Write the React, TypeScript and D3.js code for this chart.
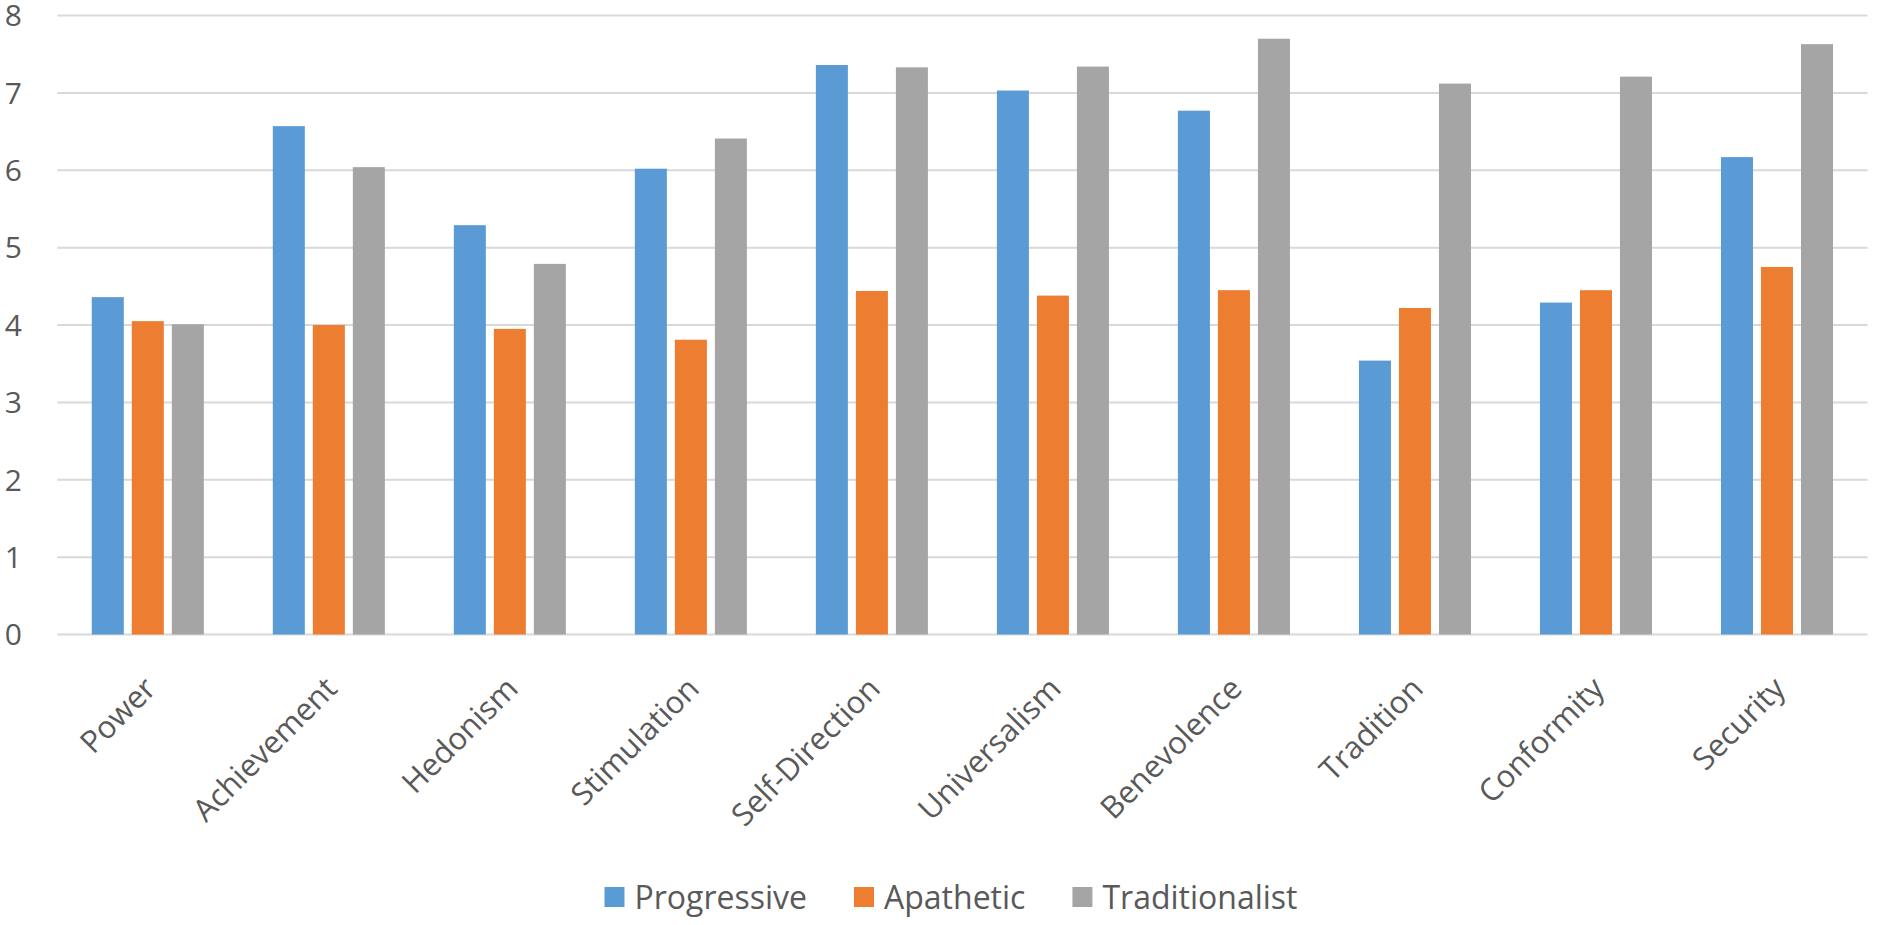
import React, { useEffect, useRef } from 'react';
import * as d3 from 'd3';

const categories = [
  'Power', 'Achievement', 'Hedonism', 'Stimulation', 'Self-Direction',
  'Universalism', 'Benevolence', 'Tradition', 'Conformity', 'Security',
];
const seriesNames = ['Progressive', 'Apathetic', 'Traditionalist'];
const progressive = [4.36, 6.57, 5.29, 6.02, 7.36, 7.03, 6.77, 3.54, 4.29, 6.17];
const apathetic = [4.05, 4.0, 3.95, 3.81, 4.44, 4.38, 4.45, 4.22, 4.45, 4.75];
const traditionalist = [4.01, 6.04, 4.79, 6.41, 7.33, 7.34, 7.7, 7.12, 7.21, 7.63];
const yTicks = [0, 1, 2, 3, 4, 5, 6, 7, 8];
const colors = ['#5B9BD5', '#ED7D31', '#A5A5A5'];

const WIDTH = 1877;
const HEIGHT = 925;
const FONT = '"Open Sans", sans-serif';
const TEXT = '#595959';

const App: React.FC = () => {
  const ref = useRef<SVGSVGElement>(null);

  useEffect(() => {
    drawChart();
  }, []);

  const drawChart = () => {
    const svg = d3.select(ref.current);
    svg.selectAll('*').remove();

    const margin = { top: 15.5, right: 9.5, bottom: 290.5, left: 57.3 };
    const plotW = WIDTH - margin.left - margin.right;
    const plotH = HEIGHT - margin.top - margin.bottom;

    const x = d3.scaleBand<string>()
      .domain(categories)
      .range([0, plotW])
      .padding(0);

    // gap between groups ~ 216% of a bar, bars overlap -25%
    const groupW = x.bandwidth() * 0.619;
    const side = (x.bandwidth() - groupW) / 2;
    const x1 = d3.scaleBand<string>()
      .domain(seriesNames)
      .range([side, side + groupW])
      .paddingInner(0.2)
      .paddingOuter(0);

    const y = d3.scaleLinear().domain([0, 8]).range([plotH, 0]);

    const g = svg.append('g').attr('transform', `translate(${margin.left},${margin.top})`);

    // gridlines
    g.selectAll('.grid')
      .data(yTicks)
      .enter().append('line')
      .attr('x1', 0)
      .attr('x2', plotW)
      .attr('y1', d => y(d))
      .attr('y2', d => y(d))
      .attr('stroke', '#D9D9D9')
      .attr('stroke-width', 2);

    // y labels
    g.selectAll('.ylab')
      .data(yTicks)
      .enter().append('text')
      .attr('x', 22 - margin.left)
      .attr('y', d => y(d))
      .attr('dy', '0.36em')
      .attr('text-anchor', 'end')
      .style('font-family', FONT)
      .style('font-size', '30px')
      .attr('fill', TEXT)
      .text(d => d);

    const series = [progressive, apathetic, traditionalist];
    series.forEach((vals, si) => {
      g.selectAll(`.bar${si}`)
        .data(vals)
        .enter().append('rect')
        .attr('x', (d, i) => (x(categories[i]) ?? 0) + (x1(seriesNames[si]) ?? 0))
        .attr('y', d => y(d))
        .attr('width', x1.bandwidth())
        .attr('height', d => plotH - y(d))
        .attr('fill', colors[si]);
    });

    // category labels, rotated
    g.selectAll('.xlab')
      .data(categories)
      .enter().append('text')
      .attr('transform', d => {
        const cx = (x(d) ?? 0) + x.bandwidth() / 2 + 10;
        return `translate(${cx},${plotH + 56}) rotate(-45)`;
      })
      .attr('text-anchor', 'end')
      .style('font-family', FONT)
      .style('font-size', '31px')
      .attr('fill', TEXT)
      .text(d => d);

    // legend
    const legend = svg.append('g');
    let cursor = 0;
    seriesNames.forEach((name, i) => {
      const item = legend.append('g').attr('transform', `translate(${cursor},0)`);
      item.append('rect')
        .attr('x', 0)
        .attr('y', -10)
        .attr('width', 20)
        .attr('height', 20)
        .attr('fill', colors[i]);
      const t = item.append('text')
        .attr('x', 30)
        .attr('y', 0)
        .attr('dy', '0.36em')
        .style('font-family', FONT)
        .style('font-size', '32px')
        .attr('fill', TEXT)
        .text(name);
      const w = (t.node() as SVGTextElement).getComputedTextLength();
      cursor += 30 + w + 47;
    });
    const total = cursor - 47;
    legend.attr('transform', `translate(${951 - total / 2},897)`);
  };

  return (
    <svg
      ref={ref}
      width={WIDTH}
      height={HEIGHT}
      style={{ position: 'absolute', left: 0, top: 0, background: '#fff' }}
    />
  );
};

export default App;
